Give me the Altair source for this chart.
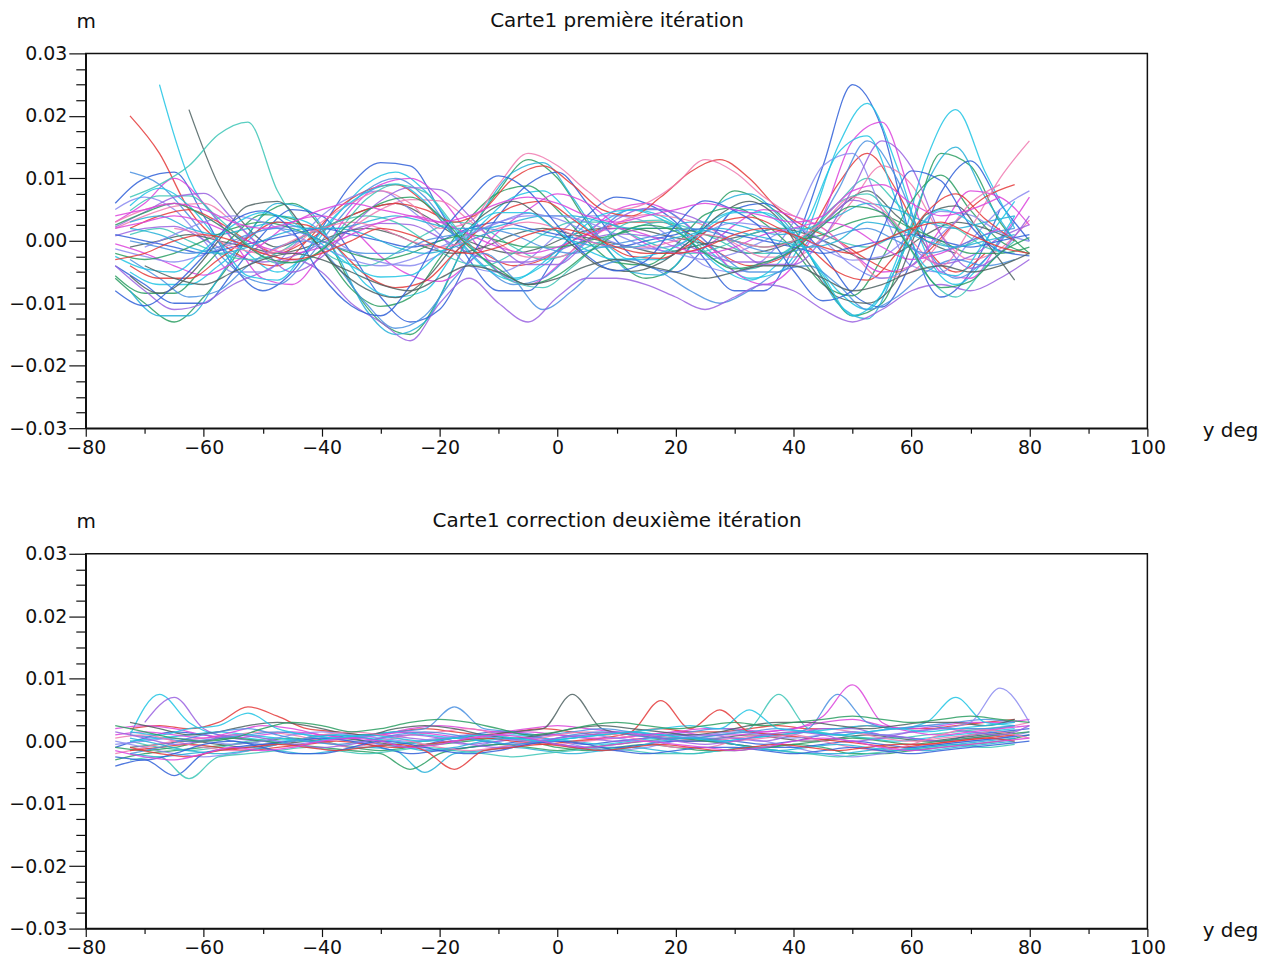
import altair as alt
import pandas as pd

# ---------------- grids (degrees) ----------------
X_A = [-75, -70, -65, -60, -55, -50, -45, -40, -35, -30, -25, -20, -15, -10, -5, 0,
       5, 10, 15, 20, 25, 30, 35, 40, 45, 50, 55, 60, 65, 70, 75, 80]
X_B = [-72.5, -67.5, -62.5, -57.5, -52.5, -47.5, -42.5, -37.5, -32.5, -27.5, -22.5,
       -17.5, -12.5, -7.5, -2.5, 2.5, 7.5, 12.5, 17.5, 22.5, 27.5, 32.5, 37.5, 42.5,
       47.5, 52.5, 57.5, 62.5, 67.5, 72.5, 77.5]

X_TICKS = [-80, -70, -60, -50, -40, -30, -20, -10, 0, 10, 20, 30, 40, 50, 60, 70, 80, 90, 100]
Y_TICKS = [-0.03, -0.0275, -0.025, -0.0225, -0.02, -0.0175, -0.015, -0.0125, -0.01,
           -0.0075, -0.005, -0.0025, 0.0, 0.0025, 0.005, 0.0075, 0.01, 0.0125, 0.015,
           0.0175, 0.02, 0.0225, 0.025, 0.0275, 0.03]
X_DOMAIN = [-80, 100]
Y_DOMAIN = [-0.03, 0.03]

TITLE_TOP = "Carte1 première itération"
TITLE_BOTTOM = "Carte1 correction deuxième itération"

# ---------------- top panel curves (values in mm) ----------------
TA01 = [6, 10, 11, 4, -4, -8, -5, 2, 9, 12.5, 12, 5, -3, -8, -8, -2, 4, 7, 6, 3, -3, -8, -8, -1, 12, 25, 18, 0, -9, -5, 5, None]
TA02 = [-6, -10, -13, -9, -3, 4, 6, 2, -7, -13, -15, -9, 1, 8, 13, 10, 3, -3, -6, -4, 3, 8, 6, 2, -6, -12, -10, 2, 14, 12, 3, -2]
TA03 = [3, 6, 10, 6, 0, -6, -7, -2, 5, 9, 10, 7, 1, -5, -7, -4, 1, 5, 6, 4, 0, -5, -7, -4, 4, 16, 19, 7, -5, -6, 0, 7]
TA04 = [5, 7, 5, 0, -5, -5, -1, 4, 7, 8, 5, 1, -4, -5, -3, 1, 4, 4, 3, 0, -4, -5, -3, 3, 12, 14, 5, -4, -5, 0, 5, 8]
TA05 = [2, 4, 5.5, 6, 3, -1, -3.5, -1.7, 2, 5, 6.6, 6.4, 3.3, -0.4, -2.6, -2.6, 0.1, 2.8, 4.2, 3.7, 2.4, -0.4, -2.6, -2.6, 0.6, 6.4, 12, 9, 1, -3, -1.3, 3.3]
TA06 = [0.8, 2, 2.3, 0.2, -2.2, -3.4, -2.5, -0.4, 1.7, 2.8, 2.6, 0.5, -1.9, -3.4, -3.4, -1.6, 0.2, 1.1, 0.8, -0.1, -1.9, -3.4, -3.4, -1.3, 2.6, 6.5, 4.4, -1, -3.7, -2.5, 0.5, 2.6]
TA07 = [-4, -7, -10, -10, -5, 1, 5, 4, -2, -9, -13, -11, -3, 4, 9, 11, 6, 0, -4, -5, -1, 5, 6, 3, -2, -8.5, -10.6, -3.4, 7.7, 12.8, 6, 0]
TA08 = [-5.6, -8.4, -8.4, -4.2, 0.7, 4.2, 3.5, -1.4, -7.7, -10.5, -9.1, -2.8, 3.5, 7.7, 8.8, 4.9, 0, -3.5, -3.9, -0.7, 4.2, 5.3, 2.8, -1.4, -7, -8.8, -2.8, 6.3, 10.5, 4.9, 0, -2.1]
TA09 = [-0.5, -2, -4, -5.5, -3.5, -0.5, 3, 4, 2, -2.5, -5.5, -6.5, -3.5, 1.5, 5, 7.5, 6, 2.5, -0.5, -2, -1, 2.5, 5, 4, 2, -2, -5, -4, 2, 8, 7, 2.5]
TA10 = [-1.3, -2.5, -3.4, -2.2, -0.4, 1.7, 2.3, 1.1, -1.6, -3.4, -4, -2.2, 0.8, 2.9, 4.4, 3.5, 1.4, -0.4, -1.3, -0.7, 1.4, 2.9, 2.3, 1.1, -1.3, -3.1, -2.5, 1.1, 4.7, 4.1, 1.4, -0.1]
TA11 = [3, 5, 6, 4, 1, -2, -1, 3, 6, 8, 6, 2, 3, 9, 14, 12, 8, 5, 6, 9, 13, 11, 7, 4, 2, -2, -6, -5, 0, 6, 9, None]
TA12 = [-4, -8, -11, -10, -7, -5, -3, -5, -10, -13, -16, -10, -6, -10, -13, -9, -6, -6, -7, -9, -11, -9, -7, -8, -11, -13, -11, -8, -7, -8, -6, -3]
TA13 = [1, 0, -1, -2, -1, 0, 1, 2, 1, 0, -1, 0, 2, 3, 2, 1, 0, -1, 0, 1, 2, 1, 0, -1, -2, -1, 0, 1, 0, -1, 0, 1]
TA14 = [-2, -3, -2, 0, 2, 3, 2, 0, -2, -3, -2, 0, 1, 0, -1, -1, 0, 1, 2, 2, 1, 0, -1, 0, 1, 3, 4, 2, 0, -2, -2, -1]
TA15 = [2, 3, 4, 3, 1, -1, -2, -1, 1, 3, 4, 3, 1, -1, -2, -1, 1, 2, 1, -1, -2, -1, 1, 2, 3, 2, -1, -3, -2, 0, 2, None]
TA16 = [None, -1, 1, 3, 4, 3, 1, -1, -3, -4, -3, -1, 1, 3, 4, 4, 3, 1, -1, -2, -3, -2, 0, 2, 0, -4, -6, -4, 1, 5, None, None]
TA17 = [None, None, 2, 1, -1, -2, 0, 2, 3, 2, 0, -1, 0, 2, 3, 2, 0, -1, -1, 0, 1, 0, -1, 0, 3, 7, 5, 0, -4, 2, 10, 16]
TA18 = [2.2, 4.6, 7, 7.6, 3.4, -1.4, -5, -2.6, 2.2, 6.4, 8.5, 8.2, 4, -0.8, -3.8, -3.8, -0.2, 3.4, 5.2, 4.6, 2.8, -0.8, -3.8, -3.8, 0.4, 8.2, 16, 11.8, 1, -4.4, -2, 4]
TA19 = [-8, -10.4, -7.2, -2.4, 3.2, 4.8, 1.6, -5.6, -10.4, -12, -7.2, 0.8, 6.4, 10.4, 8, 2.4, -2.4, -4.8, -3.2, 2.4, 6.4, 4.8, 1.6, -4.8, -9.6, -8, 1.6, 11.2, 9.6, 2.4, -1.6, -2.4]
TA20 = [-2.5, -4.5, -5, -1.5, 2.5, 4.5, 3, -0.5, -4, -5.8, -5.5, -2, 2, 4.5, 4.5, 1.5, -1.5, -3, -2.5, -1, 2, 4.5, 4.5, 1, -5.5, -12, -8.5, 0.5, 5, 3, -2, None]
TA21 = [2.5, 4.5, 6, 4, 1, -2.5, -3.5, -1.5, 3, 6, 7, 4, -1, -4.5, -7, -5.5, -2, 1, 2.5, 1.5, -2, -4.5, -3.5, -1.5, 2.5, 5.5, 4.5, -1.5, -7.5, -6.5, -2, 0.5]
TA22 = [-3, -2, 0, 1, 0, -2, -3, -2, 0, 2, 1, -1, -2, -1, 1, 2, 1, -1, -2, -2, -1, 1, 2, 1, -1, -2, 0, 2, 3, 1, -1, -2]
TA23 = [4, 5, 6, 5, 3, 2, 3, 5, 6, 5, 4, 3, 4, 6, 7, 6, 4, 3, 4, 5, 6, 5, 4, 3, 4, 8, 9, 6, 4, 5, 7, None]
TA24 = [None, -4, -6, -7, -5, -3, -2, -3, -5, -7, -8, -6, -4, -5, -7, -6, -4, -3, -4, -5, -6, -5, -4, -4, -6, -8, -7, -5, -4, -5, -4, -2]

TB01 = [None, 25, 10, 3, -2, -5, -2, 4, 9, 11, 8, 2, -3, -6, -4, 0, 3, 5, 4, 1, -3, -6, -5, 2, 15, 22, 12, -2, -7, -3, 4]
TB02 = [20, 14, 5, 0, -3, -4, 0, 5, 8, 9, 6, 1, -2, -4, -3, 0, 2, 3, 3, 1, -2, -4, -3, 1, 9, 14, 8, -1, -5, -2, None]
TB03 = [None, None, 21, 9, 2, -1, 1, 3, 5, 6, 4, 1, -1, -2, -1, 1, 2, 2, 1, 0, -1, -2, -1, 1, 5, 8, 4, 0, -2, None, None]
TB04 = [7, 9, 12, 17, 19, 8, 1, -3, -4, -2, 1, 3, 2, -1, -3, -2, 0, 2, 3, 2, 0, -2, -2, 1, 6, 10, 6, 1, -1, 1, None]
TB05 = [11, 9, 4, -2, -6, -7, -3, 3, 8, 10, 7, 1, -4, -7, -6, -2, 2, 5, 5, 2, -2, -5, -5, 0, 8, 16, 10, -1, -6, -3, 3]
TB06 = [-8, -12, -12, -6, 1, 6, 5, -2, -11, -15, -13, -4, 5, 11, 12.5, 7, 0, -5, -5.5, -1, 6, 7.5, 4, -2, -10, -12.5, -4, 9, 15, 7, 0]
TB07 = [-5, -7, -7, -4, 0, 4, 3, -1, -7, -9, -8, -2, 3, 7, 8, 4, 0, -3, -3, 0, 4, 5, 3, -2, -8, -11, -3, 13, 21, 11, 2]
TB08 = [2, 4, 5, 3, 0, -2, 0, 3, 5, 6, 5, 3, 5, 10, 12, 9, 5, 4, 7, 11, 13, 10, 5, 2, 0, -3, -5, -2, 3, 7, 9]
TB09 = [-1, 0, 1, 0, -1, -2, -1, 1, 2, 1, -1, -2, -1, 1, 2, 1, 0, -1, -2, -1, 0, 1, 2, 1, -1, -3, -2, 1, 3, 2, 0]
TB10 = [1, 2, 0, -2, -3, -2, 1, 3, 4, 3, 0, -3, -4, -2, 1, 3, 3, 1, -1, -2, -1, 1, 2, 2, 0, -1, 1, 3, 2, -1, -2]
TB11 = [-3, -6, -9, -8, -4, -1, 0, -4, -10, -14, -12, -6, -2, -6, -11, -8, -4, -3, -5, -8, -10, -8, -5, -4, -7, -11, -9, -5, -3, -4, -3]
TB12 = [3, 4, 2, 1, 2, 3, 2, 2, 3, 4, 3, 2, 2, 3, 4, 4, 3, 2, 2, 3, 3, 2, 1, 2, 4, 6, 5, 3, 2, 3, 4]
TB13 = [5.6, 8.4, 5.6, 0, -5.6, -6.3, -1.4, 4.2, 7.7, 9.1, 6.3, 0.7, -4.2, -6.3, -3.5, 0.7, 4.2, 4.9, 3.5, 0, -4.2, -6.3, -3.5, 3.5, 14, 16.8, 6.3, -4.2, -5.6, 0, 6.3]
TB14 = [-4, -6, -6, -3, 0.5, 3, 2.5, -1, -5.5, -7.5, -6.5, -2, 2.5, 5.5, 6.3, 3.5, 0, -2.5, -2.8, -0.5, 3, 3.8, 2, -1, -5, -6.3, -2, 4.5, 7.5, 3.5, 0]
TB15 = [-5.6, -8.4, -5.6, 0, 5.6, 6.3, 1.4, -4.2, -7.7, -9.1, -6.3, -0.7, 4.2, 6.3, 3.5, -0.7, -4.2, -4.9, -3.5, 0, 4.2, 6.3, 3.5, -3.5, -9, -10, -6.3, 4.2, 5.6, 0, -6.3]
TB16 = [4.8, 7.2, 7.2, 3.6, -0.6, -3.6, -3, 1.2, 6.6, 9, 7.8, 2.4, -3, -6.6, -7.5, -4.2, 0, 3, 3.3, 0.6, -3.6, -4.5, -2.4, 1.2, 6, 7.5, 2.4, -5.4, -9, -4.2, 0]
TB17 = [0, -1, -2, -1, 1, 2, 1, -1, -2, -2, 0, 1, 2, 1, -1, -2, -1, 0, 1, 2, 1, -1, -2, -1, 1, 2, 0, -2, -1, 1, 2]
TB18 = [2, 1, -1, -2, -1, 1, 2, 2, 1, -1, -2, -1, 1, 2, 1, 0, -1, -1, 0, 1, 2, 1, 0, -1, 0, 3, 2, 0, -1, 0, 1]

# ---------------- bottom panel curves (values in mm) ----------------
BA01 = [-1, 0.5, 1.5, 1, 0, -0.5, 0, 1, 0.5, -0.5, -1, 0, 1, 1.5, 1, 0, -0.5, 0, 0.5, 1, 0.5, 0, -0.5, 0, 1, 1.5, 1, 0.5, 0, 1, 1.5, 2]
BA02 = [-3, -2, -1.5, -1, -0.5, 0, 0.5, 0, -1, -1.5, -1, -0.5, 0, 0.5, 0, -1, -1.5, -1, -0.5, -1, -1.5, -1.5, -1, -0.5, -1, -2, -2, -1.5, -1, -0.5, 0, 1]
BA03 = [2, 2.5, 2, 1, 0.5, 1, 1.5, 1, 0.5, 1, 2, 2.5, 2, 1.5, 2, 2.5, 2, 1.5, 1, 1.5, 2, 2, 1.5, 2, 3, 3.5, 2.5, 2, 2.5, 3, 3, 3.5]
BA04 = [0, -1, -2, -2.5, -2, -1, 0, 0.5, 0, -0.5, -1, -1.5, -1, 0, 0.5, 0, -1, -1.5, -1, 0, 0.5, 0.5, 0, -1, -2, -2.5, -2, -1, -0.5, 0, 0.5, 1.5]
BA05 = [-2, -1, 0, 0.5, 1, 1.5, 1, 0, -1, 0, 1, 1.5, 2, 1, 0, -0.5, 0, 0.5, 1, 0.5, 0, 0.5, 1, 1.5, 2, 1.5, 0.5, 0, 0.5, 1, 2, 3]
BA06 = [None, 3, 7, 2, 0.5, 0, -0.5, 0, 0.5, 1, 0.5, 0, -0.5, 0, 0.5, 1, 0.5, 0, 0.5, 1, 1, 0.5, 0, 1, 2, 2, 1, 0.5, 0, 0.5, 1, None]
BA07 = [-4, -3, -5.5, -2, -1, -0.5, 0, 0.5, 0, -1, -2, -1.5, -1, -0.5, 0, -0.5, -1, -1, -0.5, 0, 0, -0.5, -1, -1, -0.5, 0, -0.5, -1, -0.5, 0, 0.5, 1]
BA08 = [-1, -1.5, -1, 0, 0.5, 0, -0.5, -1, -1.5, -2, -4.5, -2, -1, -0.5, -1, -1.5, -1, -0.5, 0, 0.5, 0, -0.5, -1, -0.5, 0, 0.5, 0, -0.5, 0, 0.5, 1, 1.5]
BA09 = [1, 1.5, 1, 0.5, 1.5, 2.5, 2, 1, 0.5, 1, 1.5, 1, 0.5, 1, 1.5, 1, 0.5, 0.5, 1, 1.5, 1, 1, 1.5, 2, 4, 9, 3, 1.5, 1, 1.5, 2, 2.5]
BA10 = [-0.5, 0, 0.5, 0, -0.5, 0, 1, 1.5, 1, 0.5, 0, 0.5, 1, 0.5, 0, 0.5, 1, 0.5, 0, 0.5, 1, 1.5, 1, 0.5, 1, 1.5, 1, 1.5, 2, 3, 8.5, 3]
BA11 = [0.5, 1, 0, -1, -1.5, -1, 0, 1, 1.5, 1, 0, -1, -1.5, -1, 0, 1, 1.5, 1, 0, -1, -1, 0, 0.5, 1, 0, -1, -1.5, -0.5, 1, 2, 1.5, 0.5]
BA12 = [1.5, 0.5, -0.5, 0, 1, 0.5, -0.5, -1, -0.5, 0.5, 1, 0.5, -0.5, -1, -0.5, 0.5, 1, 1.5, 1, 0, -0.5, 0, 1, 1.5, 1, 0, 0.5, 1.5, 2, 1.5, 1, 2.5]
BA13 = [-2.5, -3, -2, -0.5, 0, -1, -2, -2, -1, 0, -0.5, -1.5, -2, -1.5, -0.5, 0, -0.5, -1.5, -2, -1.5, -1, -1, -1.5, -2, -1.5, -1, -1.5, -2, -1.5, -1, -0.5, 0]
BA14 = [2.5, 1.5, 0.5, 0, 0.5, 2, 3, 2.5, 1.5, 2, 3, 3.5, 3, 2, 1, 1.5, 2.5, 3, 2.5, 2, 2.5, 3, 2.5, 3, 3.5, 4, 3.5, 3, 3.5, 4, 3.5, 3]
BA15 = [-1.5, -2.5, -3, -2, -1, -1.5, -1, 0, 0.5, 0, -1, -0.5, 0.5, 1, 0.5, -0.5, -1, -0.5, 0, -0.5, -1, -1.5, -1, 0, 0.5, 0, -1, -1.5, -1, -0.5, 0, 0.5]

BB01 = [1, 7.5, 3, 1, 0.5, 0, 0.5, 1, 0.5, 0, -0.5, 0, 0.5, 1, 0.5, 0, -0.5, 0, 0.5, 0.5, 0, 0.5, 1, 1.5, 1, 0.5, 0, 0.5, 1, 1.5, 2]
BB02 = [2, 2.5, 2, 3, 5.5, 4, 2, 1.5, 1, 1.5, 2, 1.5, 1, 1.5, 2, 1.5, 1, 1.5, 2, 1.5, 1.5, 2, 2.5, 2, 2, 2.5, 2, 2, 2.5, 3, 3.5]
BB03 = [-1, -0.5, 0, -0.5, -1, -0.5, 0, 0.5, 0, -0.5, 0, 0.5, 1, 1.5, 2, 7.5, 2, 1, 0.5, 0, 0.5, 1, 0.5, 0, 0.5, 1, 0.5, 0, 0.5, 1, 1.5]
BB04 = [0, -1, -1.5, -1, 0, 0.5, 0, -0.5, -1, -0.5, 0, 0.5, 0, -0.5, 0, 0.5, 1, 1.5, 1, 0.5, 1, 2, 7.5, 2, 1, 0.5, 0.5, 1, 1.5, 2, 2.5]
BB05 = [1, 0.5, 0, 0.5, 1, 1.5, 1, 0.5, 1, 1.5, 2, 5.5, 2, 1.5, 1, 1.5, 2, 1.5, 1, 1.5, 2, 1.5, 1, 2, 7.5, 3, 2, 2.5, 3, 3.5, 3]
BB06 = [-2, -2.5, -2, -1.5, -1, -1.5, -2, -1.5, -1, -1.5, -5, -2, -1.5, -1, -1.5, -2, -1.5, -1, -1.5, -2, -1.5, -1, -1.5, -2, -2, -1.5, -1, -1.5, -1, -0.5, 0]
BB07 = [0, 0.5, 1, 1.5, 1, 0.5, 0, 0.5, 1, 1.5, 1, 0.5, 0, -0.5, 0, 0.5, 1, 1.5, 1, 0.5, 0, 0.5, 1, 1.5, 2, 2.5, 2, 3, 7, 3, 2.5]
BB08 = [-1.5, -1, -0.5, -1, -1.5, -1, -0.5, 0, -0.5, -1, -0.5, 0, 0.5, 0, -0.5, 0, 0.5, 1.5, 6.5, 2, 5, 1.5, 1, 0.5, 0, -0.5, -1, -0.5, 0, 0.5, 1]
BB09 = [3, 2, 1, 1.5, 2.5, 3, 2.5, 1.5, 1, 2, 2.5, 2, 1, 0.5, 1, 2, 2.5, 2, 1.5, 1, 1.5, 2.5, 3, 3, 2.5, 2, 2.5, 3, 3, 2.5, 3.5]
BB10 = [-3, -2.5, -6, -2.5, -2, -1.5, -1, -1.5, -2, -1.5, -1, -1.5, -2, -2.5, -2, -1.5, -1, -1.5, -2, -2, -1.5, -1, -1.5, -2, -2.5, -2, -1.5, -1, -0.5, -1, -0.5]
BB11 = [-2, -1, 0.5, 1.5, 2, 1, 0, -0.5, 0, 1, 1.5, 1, 0, -0.5, 0, 1, 1.5, 1, 0.5, 0.5, 1, 1.5, 2, 1.5, 1, 1.5, 2, 2.5, 2, 2, 2.5]
BB12 = [0.5, -0.5, -1.5, -2, -1.5, -0.5, 0.5, 1, 0.5, -0.5, -1.5, -1, 0, 0.5, 0, -1, -1.5, -1, 0, 0.5, 0, -1, -1.5, -1, -0.5, -1, -1.5, -1, -0.5, 0, 0.5]
BB13 = [1.5, 1, 2, 2.5, 4.5, 2, 1, 0.5, 1, 0.5, 0, 0.5, 1, 0.5, 0, 0.5, 1, 1.5, 2, 2.5, 2, 5, 2, 1.5, 1, 1.5, 2, 1.5, 2, 2.5, 3]
BB14 = [-1, -2, -2.5, -1.5, -1, -0.5, -1, -1.5, -1, -0.5, -1.5, -4.5, -1.5, -1, -0.5, -1, -1.5, -1, -0.5, -1, -1.5, -1, -0.5, -1, -1.5, -1, -0.5, -0.5, 0, 0.5, 0]

PALETTE = ["#3060d8", "#20c4e4", "#2a9e62", "#e43a3a", "#dc44dc", "#4e6262",
           "#8a8af0", "#3cc6b6", "#f07ab0", "#4a90e0", "#9a62e0", "#26b0d8"]

TOP_SET = [("TA01", X_A, TA01), ("TB01", X_B, TB01), ("TA02", X_A, TA02), ("TB02", X_B, TB02),
           ("TA03", X_A, TA03), ("TB03", X_B, TB03), ("TA04", X_A, TA04), ("TB04", X_B, TB04),
           ("TA05", X_A, TA05), ("TB05", X_B, TB05), ("TA06", X_A, TA06), ("TB06", X_B, TB06),
           ("TA07", X_A, TA07), ("TB07", X_B, TB07), ("TA08", X_A, TA08), ("TB08", X_B, TB08),
           ("TA09", X_A, TA09), ("TB09", X_B, TB09), ("TA10", X_A, TA10), ("TB10", X_B, TB10),
           ("TA11", X_A, TA11), ("TB11", X_B, TB11), ("TA12", X_A, TA12), ("TB12", X_B, TB12),
           ("TA13", X_A, TA13), ("TB13", X_B, TB13), ("TA14", X_A, TA14), ("TB14", X_B, TB14),
           ("TA15", X_A, TA15), ("TB15", X_B, TB15), ("TA16", X_A, TA16), ("TB16", X_B, TB16),
           ("TA17", X_A, TA17), ("TB17", X_B, TB17), ("TA18", X_A, TA18), ("TB18", X_B, TB18),
           ("TA19", X_A, TA19), ("TA20", X_A, TA20), ("TA21", X_A, TA21), ("TA22", X_A, TA22),
           ("TA23", X_A, TA23), ("TA24", X_A, TA24)]
BOT_SET = [("BA01", X_A, BA01), ("BB01", X_B, BB01), ("BA02", X_A, BA02), ("BB02", X_B, BB02),
           ("BA03", X_A, BA03), ("BB03", X_B, BB03), ("BA04", X_A, BA04), ("BB04", X_B, BB04),
           ("BA05", X_A, BA05), ("BB05", X_B, BB05), ("BA06", X_A, BA06), ("BB06", X_B, BB06),
           ("BA07", X_A, BA07), ("BB07", X_B, BB07), ("BA08", X_A, BA08), ("BB08", X_B, BB08),
           ("BA09", X_A, BA09), ("BB09", X_B, BB09), ("BA10", X_A, BA10), ("BB10", X_B, BB10),
           ("BA11", X_A, BA11), ("BB11", X_B, BB11), ("BA12", X_A, BA12), ("BB12", X_B, BB12),
           ("BA13", X_A, BA13), ("BB13", X_B, BB13), ("BA14", X_A, BA14), ("BB14", X_B, BB14),
           ("BA15", X_A, BA15)]


def table(curves):
    rows = []
    for name, xs, ys in curves:
        for x, y in zip(xs, ys):
            if y is not None:
                rows.append({"curve": name, "x": x, "y": y / 1000.0})
    return pd.DataFrame(rows)


FONT = "DejaVu Sans"
W, H = 1065, 376
MAJOR_Y = "abs(datum.value * 100 - round(datum.value * 100)) < 0.01"


def panel(curves, title):
    names = [c[0] for c in curves]
    colors = [PALETTE[i % len(PALETTE)] for i in range(len(names))]
    xscale = alt.Scale(domain=X_DOMAIN, nice=False, zero=False)
    yscale = alt.Scale(domain=Y_DOMAIN, nice=False, zero=False)
    x_axis = alt.Axis(
        values=X_TICKS,
        labelExpr="datum.value % 20 === 0 ? format(datum.value, 'd') : ''",
        tickSize={"condition": {"test": "datum.value % 20 === 0", "value": 8}, "value": 5},
        labelPadding=2, labelOverlap=False, labelFlush=False,
        title="y deg", titleAngle=0, titleAlign="left", titleBaseline="alphabetic",
        titleX=1120, titleY=8, grid=False,
    )
    y_axis = alt.Axis(
        values=Y_TICKS,
        labelExpr=MAJOR_Y + " ? format(datum.value, '.2f') : ''",
        tickSize={"condition": {"test": MAJOR_Y, "value": 17}, "value": 10},
        labelPadding=2, labelOverlap=False, labelFlush=False,
        title="m", titleAngle=0, titleAlign="center", titleBaseline="alphabetic",
        titleX=0, titleY=-26, grid=False,
    )
    lines = alt.Chart(table(curves)).mark_line(
        interpolate="monotone", strokeWidth=1.3, opacity=0.85, clip=True
    ).encode(
        x=alt.X("x:Q", scale=xscale, axis=x_axis),
        y=alt.Y("y:Q", scale=yscale, axis=y_axis),
        color=alt.Color("curve:N", scale=alt.Scale(domain=names, range=colors), legend=None),
        detail="curve:N",
    )
    # invisible layer that carries the panel title on a top axis
    head = alt.Chart(pd.DataFrame({"x": X_DOMAIN})).mark_rule(opacity=0).encode(
        x=alt.X("x:Q", scale=xscale, axis=alt.Axis(
            orient="top", title=title, labels=False, ticks=False, domain=False, grid=False,
            titleX=W / 2, titleY=-27, titleAlign="center", titleBaseline="alphabetic",
            titleAngle=0)),
    )
    return alt.layer(lines, head).resolve_axis(x="independent").properties(width=W, height=H)


chart = alt.vconcat(
    panel(TOP_SET, TITLE_TOP), panel(BOT_SET, TITLE_BOTTOM), spacing=52
).properties(
    padding={"left": 0, "top": 0, "right": 5, "bottom": 5},
    background="white",
).configure_view(
    stroke="#111", strokeWidth=1.5
).configure_axis(
    labelFont=FONT, labelFontSize=19, labelColor="#111",
    titleFont=FONT, titleFontSize=20, titleFontWeight="normal", titleColor="#111",
    domainColor="#111", domainWidth=1.5, tickColor="#111", tickWidth=1.2,
)

chart.save("out.html", embed_options={"renderer": "svg", "actions": False})
